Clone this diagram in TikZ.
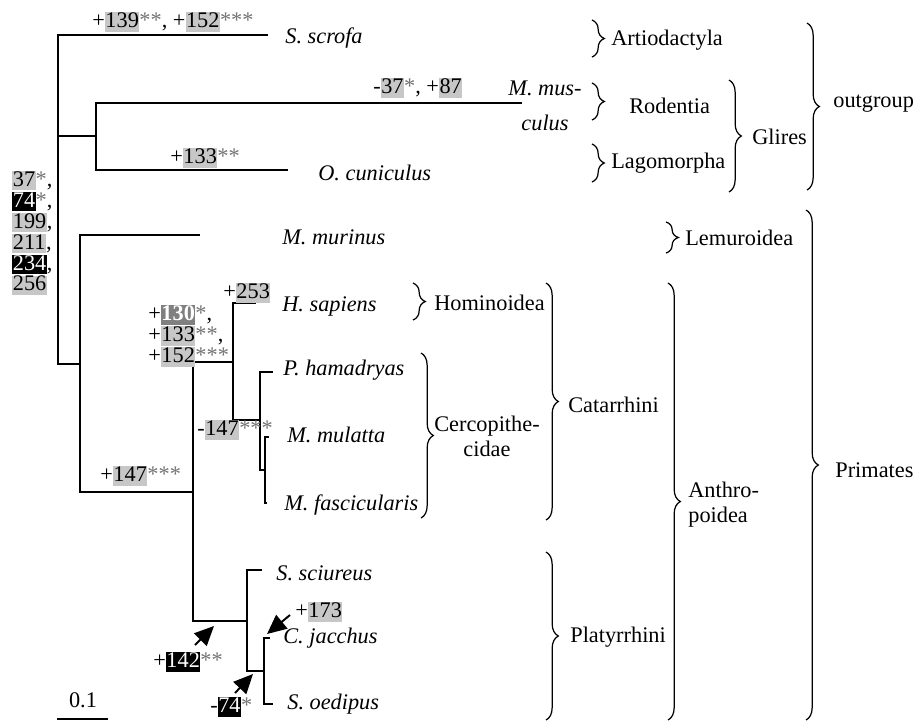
\documentclass[tikz,border=0pt]{standalone}
\usepackage{fontspec}
\setmainfont{Liberation Serif}
\usepackage{xcolor}
\usetikzlibrary{arrows.meta, decorations.pathreplacing}
\definecolor{boxgray}{gray}{0.78}
\definecolor{boxdark}{gray}{0.5}
\definecolor{stargray}{gray}{0.45}
\newcommand{\hlstrut}{\rule[-2pt]{0pt}{9pt}}
\newcommand{\gbox}[1]{{\setlength{\fboxsep}{0.3pt}\colorbox{boxgray}{\hlstrut#1}}}
\newcommand{\kbox}[1]{{\setlength{\fboxsep}{0.3pt}\colorbox{black}{\hlstrut\textcolor{white}{#1}}}}
\newcommand{\dbox}[1]{{\setlength{\fboxsep}{0.3pt}\colorbox{boxdark}{\hlstrut\textcolor{white}{\textbf{#1}}}}}
\newcommand{\stars}[1]{\textcolor{stargray}{#1}}
\tikzset{
  branch/.style={line width=1.1pt},
  taxon/.style={anchor=west, inner sep=0pt, font=\fontsize{12.7}{15}\selectfont\itshape},
  lab/.style={anchor=west, inner sep=0pt},
  grp/.style={anchor=west, inner sep=0pt},
  clade/.style={decorate, decoration={brace, amplitude=7pt}, line width=0.7pt},
  arrow/.style={line width=1.1pt, -{Triangle[length=11pt, width=10pt]}}
}

\begin{document}
\begin{tikzpicture}[x=0.02cm, y=-0.02cm, font=\fontsize{12.7}{15}\selectfont]
	\useasboundingbox (0,0) rectangle (915,721);
	% inner nodes of the tree
	\coordinate (root) at (58,200);
	\coordinate (glires) at (96,136);
	\coordinate (prim) at (80,364);
	\coordinate (anth) at (193,492);
	\coordinate (catar) at (233,362);
	\coordinate (cerco) at (260,420);
	\coordinate (maca) at (265,470);
	\coordinate (platy) at (247,621);
	\coordinate (calli) at (264,671);
	% branch tips
	\coordinate (scr) at (268,35);
	\coordinate (mus) at (522,103);
	\coordinate (cun) at (288,170);
	\coordinate (mur) at (200,235);
	\coordinate (hsa) at (256,303);
	\coordinate (pha) at (273,372);
	\coordinate (mmu) at (269,437);
	\coordinate (mfa) at (267,503);
	\coordinate (ssc) at (262,570);
	\coordinate (cja) at (270,638);
	\coordinate (soe) at (273,704);
	% branches
	\draw[branch] (root) |- (scr);
	\draw[branch] (root) |- (glires);
	\draw[branch] (root) |- (prim);
	\draw[branch] (glires) |- (mus);
	\draw[branch] (glires) |- (cun);
	\draw[branch] (prim) |- (mur);
	\draw[branch] (prim) |- (anth);
	\draw[branch] (anth) |- (catar);
	\draw[branch] (anth) |- (platy);
	\draw[branch] (catar) |- (hsa);
	\draw[branch] (catar) |- (cerco);
	\draw[branch] (cerco) |- (pha);
	\draw[branch] (cerco) |- (maca);
	\draw[branch] (maca) |- (mmu);
	\draw[branch] (maca) |- (mfa);
	\draw[branch] (platy) |- (ssc);
	\draw[branch] (platy) |- (calli);
	\draw[branch] (calli) |- (cja);
	\draw[branch] (calli) |- (soe);
	% species
	\node[taxon] (scrofa) at (285,38) {S. scrofa};
	\node[taxon, anchor=center, align=center, font=\fontsize{12.7}{19.8}\selectfont\itshape] (musculus) at (545,106) {M. mus-\\culus};
	\node[taxon] (cuniculus) at (318,173) {O. cuniculus};
	\node[taxon] (murinus) at (282,237) {M. murinus};
	\node[taxon] (sapiens) at (282,306) {H. sapiens};
	\node[taxon] (hamadryas) at (283,370) {P. hamadryas};
	\node[taxon] (mulatta) at (287,435) {M. mulatta};
	\node[taxon] (fascicularis) at (284,505) {M. fascicularis};
	\node[taxon] (sciureus) at (276,573) {S. sciureus};
	\node[taxon] (jacchus) at (283,638) {C. jacchus};
	\node[taxon] (oedipus) at (287,704) {S. oedipus};
	% changes on branches
	\node[lab] (l139) at (92,22) {+\gbox{139}\stars{**}, +\gbox{152}\stars{***}};
	\node[lab] (l37) at (373,88) {-\gbox{37}\stars{*}, +\gbox{87}};
	\node[lab] (l133) at (170,158) {+\gbox{133}\stars{**}};
	\node[lab, align=left, font=\fontsize{12.7}{11.9}\selectfont] (lroot) at (12,233)
		{\gbox{37}\stars{*},\\ \kbox{74}\stars{*},\\ \gbox{199},\\ \gbox{211},\\ \kbox{234},\\ \gbox{256}};
	\node[lab, align=left, font=\fontsize{12.7}{11.9}\selectfont] (lcat) at (148,336)
		{+\dbox{130}\stars{*},\\ +\gbox{133}\stars{**},\\ +\gbox{152}\stars{***}};
	\node[lab] (l253) at (223,293) {+\gbox{253}};
	\node[lab] (l147a) at (197,430) {-\gbox{147}\stars{***}};
	\node[lab] (l147b) at (100,476) {+\gbox{147}\stars{***}};
	\node[lab] (l142) at (153,662) {+\kbox{142}\stars{**}};
	\node[lab] (l74) at (210,707) {-\kbox{74}\stars{*}};
	\node[lab] (l173) at (295,612) {+\gbox{173}};
	% arrows
	\coordinate (a1) at (195,645); \coordinate (b1) at (214,626);
	\coordinate (a2) at (235,693); \coordinate (b2) at (253,674);
	\coordinate (a3) at (290,615); \coordinate (b3) at (267,634);
	\draw[arrow] (a1) -- (b1);
	\draw[arrow] (a2) -- (b2);
	\draw[arrow] (a3) -- (b3);
	% scale bar
	\coordinate (sb1) at (57,719);
	\coordinate (sb2) at (108,719);
	\draw[line width=0.8pt] (sb1) -- (sb2);
	\node (sclab) at (83,700) {0.1};
	% braces for the groups
	\draw[clade] (592,20) -- (592,57);
	\node[grp] (artio) at (611,40) {Artiodactyla};
	\draw[clade] (592,83) -- (592,120);
	\node[grp] (rodentia) at (629,106) {Rodentia};
	\draw[clade] (592,144) -- (592,182);
	\node[grp] (lago) at (611,163) {Lagomorpha};
	\draw[clade] (729,80) -- (729,192);
	\node[grp] (gliresl) at (752,137) {Glires};
	\draw[clade] (807,23) -- (807,190);
	\node[grp] (outgroup) at (833,104) {outgroup};
	\draw[clade] (666,222) -- (666,253);
	\node[grp] (lemur) at (685,238) {Lemuroidea};
	\draw[clade] (413,283) -- (413,320);
	\node[grp] (homin) at (434,303) {Hominoidea};
	\draw[clade] (421,353) -- (421,518);
	\node[align=center, inner sep=0pt, font=\fontsize{12.7}{14.2}\selectfont] (cercol) at (487,436) {Cercopithe-\\cidae};
	\draw[clade] (546,283) -- (546,520);
	\node[grp] (catarl) at (568,405) {Catarrhini};
	\draw[clade] (546,552) -- (546,720);
	\node[grp] (platyl) at (570,637) {Platyrrhini};
	\draw[clade] (668,283) -- (668,720);
	\node[grp, align=left, font=\fontsize{12.7}{14.2}\selectfont] (anthl) at (688,505) {Anthro-\\poidea};
	\draw[clade] (806,210) -- (806,720);
	\node[grp] (primates) at (835,470) {Primates};
\end{tikzpicture}
\end{document}
